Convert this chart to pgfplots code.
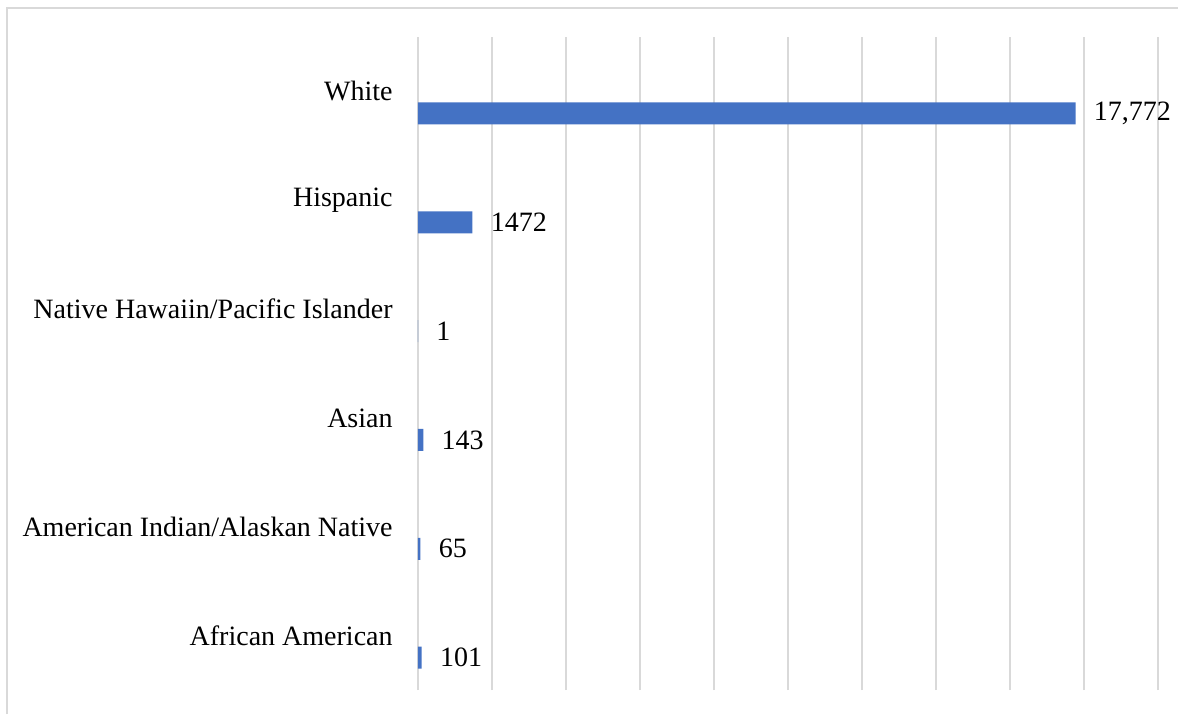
\documentclass[border=0pt]{standalone}
\usepackage{pgfplots}
\pgfplotsset{compat=1.18}
\usepackage{fontspec}
\setmainfont{Liberation Serif}
\definecolor{barblue}{HTML}{4472C4}
\definecolor{gridgray}{HTML}{D9D9D9}
\begin{document}
\fontsize{14}{17}\selectfont
\begin{tikzpicture}
\useasboundingbox (0,0) rectangle (589pt,357pt);
\draw[gridgray, line width=1pt] (3.5pt,0pt) -- (3.5pt,353pt) -- (589pt,353pt);
\begin{axis}[
  at={(209pt,12pt)}, anchor=south west,
  scale only axis, width=370pt, height=326.5pt,
  xbar, bar width=11pt, bar shift=-11pt,
  xmin=0, xmax=20000, xtick={0,2000,...,20000}, xticklabels={},
  ymin=-0.5, ymax=5.5, ytick={0,1,2,3,4,5},
  yticklabels={African American, American Indian/Alaskan Native, Asian, Native Hawaiin/Pacific Islander, Hispanic, White},
  yticklabel style={anchor=east, inner sep=0pt, xshift=-12.5pt, font=\fontsize{14}{17}\selectfont},
  axis line style={draw=none}, major tick length=0pt,
  xmajorgrids, major grid style={gridgray, line width=1pt},
  point meta=explicit symbolic,
  nodes near coords, nodes near coords align={horizontal},
  every node near coord/.append style={anchor=west, inner sep=0pt, xshift=9pt, text=black, font=\fontsize{14}{17}\selectfont},
]
\addplot[fill=barblue, draw=none] table[x=v, y=c, meta=lab] {
c v lab
0 101 101
1 65 65
2 143 143
3 1 1
4 1472 1472
5 17772 {17,772}
};
\end{axis}
\end{tikzpicture}
\end{document}
